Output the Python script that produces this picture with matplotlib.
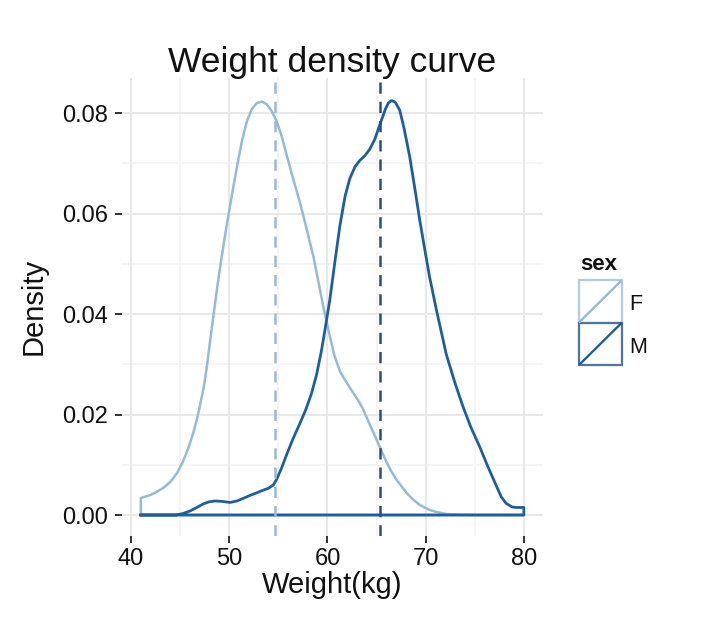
import matplotlib
matplotlib.use("Agg")
import matplotlib.pyplot as plt
from matplotlib.patches import Rectangle
from matplotlib.lines import Line2D

plt.rcParams['font.family'] = ['Liberation Sans', 'DejaVu Sans']

# ---- data ----
groups = ["F", "M"]
f_weight = [41, 42.0, 42.6, 43.3, 44.0, 44.7, 45.3, 45.8, 46.3, 46.7, 47.0, 47.4, 47.7, 48.0,
            48.4, 48.7, 49.0, 49.4, 49.7, 50.3, 50.8, 51.3, 51.8, 52.3, 52.8, 53.3, 53.8,
            54.3, 54.8, 55.3, 55.8, 56.5, 57.2, 57.9, 58.6, 59.1, 59.6, 60.2, 60.7, 61.3,
            62.0, 62.6, 63.1, 63.6, 64.0, 64.5, 65.0, 65.5, 66.0, 66.5, 67.0, 67.7, 68.2,
            68.7, 69.4, 70.4, 71.1, 72.1, 73.5, 75.0, 80.0]
f_density = [0.0034, 0.0040, 0.0046, 0.0054, 0.0066, 0.0084, 0.0107, 0.0131, 0.0161, 0.0190,
             0.0216, 0.0254, 0.0292, 0.0338, 0.0398, 0.0442, 0.0484, 0.0535, 0.0572, 0.0640,
             0.0695, 0.0745, 0.0784, 0.0808, 0.0820, 0.0823, 0.0818, 0.0805, 0.0785, 0.0757,
             0.0720, 0.0670, 0.0622, 0.0568, 0.0512, 0.0462, 0.0413, 0.0360, 0.0318, 0.0285,
             0.0262, 0.0244, 0.0229, 0.0212, 0.0194, 0.0172, 0.0150, 0.0128, 0.0106, 0.0087,
             0.0071, 0.0053, 0.0041, 0.0031, 0.0020, 0.0010, 0.0006, 0.0002, 0.00005, 0.0,
             0.0]
m_weight = [41, 44.6, 45.3, 46.0, 46.7, 47.35, 47.9, 48.55, 49.3, 50.07, 50.8, 51.42, 52.1,
            52.78, 53.4, 53.97, 54.5, 54.8, 55.3, 55.84, 56.5, 57.19, 57.8, 58.38, 58.9,
            59.4, 59.8, 60.24, 60.8, 61.26, 61.8, 62.28, 62.8, 63.3, 63.8, 64.3, 64.8, 65.3,
            65.9, 66.2, 66.52, 66.9, 67.36, 67.8, 68.38, 68.9, 69.4, 69.9, 70.4, 71.1, 72.1,
            73.0, 73.8, 74.6, 75.5, 76.3, 77.2, 77.7, 78.2, 78.8, 79.2, 80.0]
m_density = [0.0, 0.0, 0.0003, 0.0008, 0.0015, 0.0022, 0.0026, 0.0028, 0.0027, 0.0025, 0.0028,
             0.0033, 0.0039, 0.0044, 0.0049, 0.0053, 0.0060, 0.0070, 0.0092, 0.0120, 0.0152,
             0.0182, 0.0210, 0.0242, 0.0280, 0.0328, 0.0375, 0.0428, 0.0510, 0.0575, 0.0635,
             0.0670, 0.0693, 0.0706, 0.0715, 0.0728, 0.0747, 0.0775, 0.0808, 0.0820, 0.0825,
             0.0822, 0.0806, 0.0770, 0.0713, 0.0650, 0.0587, 0.0530, 0.0474, 0.0408, 0.0320,
             0.0262, 0.0216, 0.0175, 0.0136, 0.0098, 0.0058, 0.0036, 0.0023, 0.0016, 0.0015,
             0.0015]
means = {"F": 54.7, "M": 65.4}
x_ticks = [40, 50, 60, 70, 80]
y_ticks = [0.00, 0.02, 0.04, 0.06, 0.08]
y_tick_labels = ["0.00", "0.02", "0.04", "0.06", "0.08"]

colors = {"F": "#93bbd8", "M": "#1f5e9c"}
vcolors = {"F": "#9db8cf", "M": "#274d7e"}

W, H = 720, 629
fig = plt.figure(figsize=(W / 100, H / 100), dpi=100)
fig.patch.set_facecolor("white")

left, right, top, bottom = 121.7, 543.0, 78.0, 535.6
ax = fig.add_axes([left / W, 1 - bottom / H, (right - left) / W, (bottom - top) / H])
ax.set_facecolor("white")
ax.set_xlim(39.05, 81.95)
ax.set_ylim(-0.0041, 0.0870)

# grid
for v in [45, 55, 65, 75]:
    ax.axvline(v, color="#f4f4f4", lw=1.2, zorder=0)
for v in [0.01, 0.03, 0.05, 0.07]:
    ax.axhline(v, color="#f4f4f4", lw=1.2, zorder=0)
for v in x_ticks:
    ax.axvline(v, color="#e8e8e8", lw=1.4, zorder=0)
for v in y_ticks:
    ax.axhline(v, color="#e8e8e8", lw=1.4, zorder=0)

lws = {"F": 1.8, "M": 2.0}
for g, wx, dy in [("F", f_weight, f_density), ("M", m_weight, m_density)]:
    xs = [wx[0]] + list(wx) + [wx[-1], wx[0]]
    ys = [0.0] + list(dy) + [0.0, 0.0]
    ax.plot(xs, ys, color=colors[g], lw=lws[g], zorder=3, solid_joinstyle="round")

for g in groups:
    ax.axvline(means[g], color=vcolors[g], lw=1.8, ls=(0, (4.5, 3.2)), zorder=4)

for s in ax.spines.values():
    s.set_visible(False)
ax.set_xticks(x_ticks)
ax.set_xticklabels([str(v) for v in x_ticks])
ax.set_yticks(y_ticks)
ax.set_yticklabels(y_tick_labels)
ax.tick_params(axis="both", colors="#222222", length=5, width=1.3, labelsize=17,
               labelcolor="#111111")
ax.tick_params(axis="x", pad=4)
ax.tick_params(axis="y", pad=5)

ax.set_xlabel("Weight(kg)", fontsize=21, color="#111111")
ax.set_ylabel("Density", fontsize=21, color="#111111")
ax.xaxis.set_label_coords(0.5, -0.077)
ax.yaxis.set_label_coords(-0.175, 0.5)

fig.text(332 / W, 1 - 72 / H, "Weight density curve", ha="center", va="baseline",
         fontsize=25.5, color="#111111")

# legend
fig.text(580 / W, 1 - 270 / H, "sex", ha="left", va="baseline", fontsize=16,
         fontweight="bold", color="#111111")
lax = fig.add_axes([579 / W, 1 - 365 / H, 43 / W, 85 / H])
lax.set_xlim(0, 1)
lax.set_ylim(0, 2)
lax.axis("off")
edge = {"F": "#b5cbdd", "M": "#4d74a2"}
for i, g in enumerate(groups):
    y0 = 1 - i
    lax.add_patch(Rectangle((0, y0), 1, 1, fill=False, edgecolor=edge[g], lw=1.6,
                            clip_on=False))
    lax.add_line(Line2D([0.02, 0.98], [y0 + 0.02, y0 + 0.98], color=colors[g], lw=1.7))
fig.text(629 / W, 1 - 310 / H, "F", ha="left", va="baseline", fontsize=15.5, color="#111111")
fig.text(629 / W, 1 - 353 / H, "M", ha="left", va="baseline", fontsize=15.5, color="#111111")

fig.savefig("out.png", dpi=100, facecolor="white")
